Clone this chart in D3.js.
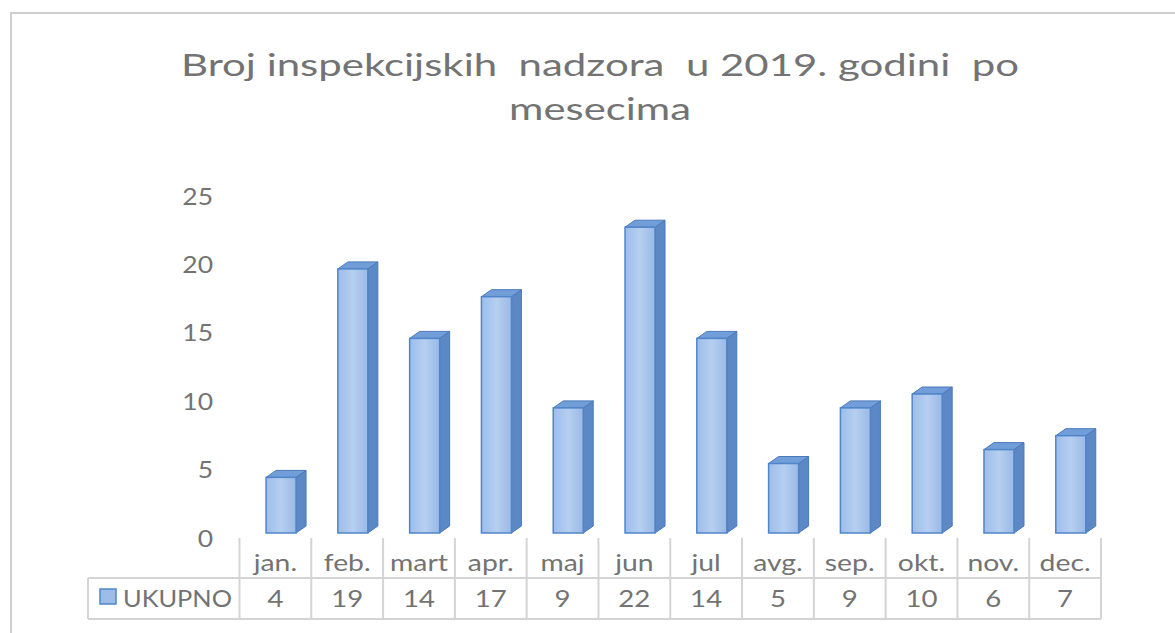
<!DOCTYPE html>
<html>
<head>
<meta charset="utf-8">
<script src="https://cdn.jsdelivr.net/npm/d3@7"></script>
<style>
  body { margin: 0; background: #fff; }
  text { font-family: Lato, "Open Sans", sans-serif; fill: #737373; }
</style>
</head>
<body>
<svg id="chart"></svg>
<script>
// data
const months = ["jan.", "feb.", "mart", "apr.", "maj", "jun", "jul", "avg.", "sep.", "okt.", "nov.", "dec."];
const counts = [4, 19, 14, 17, 9, 22, 14, 5, 9, 10, 6, 7];
const seriesName = "UKUPNO";
const yTicks = [0, 5, 10, 15, 20, 25];
const titleLines = ["Broj inspekcijskih  nadzora  u 2019. godini  po", "mesecima"];

const width = 1175, height = 633;
const depthX = 10, depthY = 7;

const svg = d3.select("#chart")
    .attr("width", width)
    .attr("height", height);

// the reference text looks horizontally stretched, widen it a bit
function stretch(sel, k) {
    sel.each(function() {
        const len = this.getComputedTextLength();
        d3.select(this)
            .attr("textLength", len * k)
            .attr("lengthAdjust", "spacingAndGlyphs");
    });
}

// gradients for the 3d faces
const defs = svg.append("defs");
const front = defs.append("linearGradient").attr("id", "front")
    .attr("x1", 0).attr("x2", 1).attr("y1", 0).attr("y2", 0);
front.append("stop").attr("offset", "0%").attr("stop-color", "#9dbde9");
front.append("stop").attr("offset", "50%").attr("stop-color", "#b6cff1");
front.append("stop").attr("offset", "100%").attr("stop-color", "#9ab9e6");

// chart frame (only top and left edges are visible)
svg.append("path")
    .attr("d", "M11,634 L11,13 L1176,13")
    .attr("fill", "none")
    .attr("stroke", "#cfcfcf")
    .attr("stroke-width", 2);

// title
svg.append("g").selectAll("text")
    .data(titleLines)
    .enter().append("text")
    .attr("x", 600)
    .attr("y", (d, i) => 76 + i * 44)
    .attr("text-anchor", "middle")
    .attr("font-size", 30)
    .attr("textLength", (d, i) => i === 0 ? 838 : 182)
    .attr("lengthAdjust", "spacingAndGlyphs")
    .style("white-space", "pre")
    .style("fill", "#737373")
    .text(d => d);

const x = d3.scaleBand()
    .domain(months)
    .range([239.5, 1101])
    .paddingInner(0).paddingOuter(0);

const y = d3.scaleLinear()
    .domain([0, 25])
    .range([533, 533 - 25 * 13.9]);

// back wall scale for the value axis labels (perspective shift)
const yWall = d3.scaleLinear()
    .domain([0, 25])
    .range([538, 196]);

const yAxis = svg.append("g")
    .attr("transform", "translate(214,0)")
    .call(d3.axisLeft(yWall).tickValues(yTicks).tickSize(0).tickPadding(0));
yAxis.select(".domain").remove();
yAxis.selectAll("text")
    .attr("font-size", 23)
    .attr("font-family", "Lato, sans-serif")
    .style("fill", "#737373")
    .attr("x", -1)
    .attr("dy", "0.35em")
    .call(stretch, 1.15);

// bars
const barW = 30;
const bx = d => x(d.m) + x.bandwidth() * 0.37;
const rows = months.map((m, i) => ({m: m, v: counts[i]}));

const bars = svg.append("g").selectAll("g")
    .data(rows)
    .enter().append("g");

// side face
bars.append("path")
    .attr("d", d => {
        const x0 = bx(d) + barW, yt = y(d.v), yb = y(0);
        return `M${x0},${yb} L${x0},${yt} L${x0 + depthX},${yt - depthY} L${x0 + depthX},${yb - depthY} Z`;
    })
    .attr("fill", "#5c88c6")
    .attr("stroke", "#4a79b8")
    .attr("stroke-width", 1);

// top face
bars.append("path")
    .attr("d", d => {
        const x0 = bx(d), yt = y(d.v);
        return `M${x0},${yt} L${x0 + depthX},${yt - depthY} L${x0 + barW + depthX},${yt - depthY} L${x0 + barW},${yt} Z`;
    })
    .attr("fill", "#719dd9")
    .attr("stroke", "#4a79b8")
    .attr("stroke-width", 1);

// front face
bars.append("rect")
    .attr("x", d => bx(d))
    .attr("y", d => y(d.v))
    .attr("width", barW)
    .attr("height", d => y(0) - y(d.v))
    .attr("fill", "url(#front)")
    .attr("stroke", "#4f86c9")
    .attr("stroke-width", 1.5);

// data table
const gridColor = "#d4d4d4";
const rowTop = 538, rowMid = 578, rowBot = 619, legendLeft = 88;
const table = svg.append("g");

// vertical separators
table.selectAll("line.v")
    .data(months.concat(["end"]))
    .enter().append("line")
    .attr("x1", (d, i) => i < months.length ? x(d) : x.range()[1])
    .attr("x2", (d, i) => i < months.length ? x(d) : x.range()[1])
    .attr("y1", rowTop)
    .attr("y2", rowBot)
    .attr("stroke", gridColor)
    .attr("stroke-width", 2);

table.append("line")
    .attr("x1", legendLeft).attr("x2", x.range()[1])
    .attr("y1", rowMid).attr("y2", rowMid)
    .attr("stroke", gridColor).attr("stroke-width", 2);
table.append("line")
    .attr("x1", legendLeft).attr("x2", x.range()[1])
    .attr("y1", rowBot).attr("y2", rowBot)
    .attr("stroke", gridColor).attr("stroke-width", 2);
table.append("line")
    .attr("x1", legendLeft).attr("x2", legendLeft)
    .attr("y1", rowMid).attr("y2", rowBot)
    .attr("stroke", gridColor).attr("stroke-width", 2);

// category labels
table.selectAll("text.cat")
    .data(months)
    .enter().append("text")
    .attr("x", d => x(d) + x.bandwidth() / 2)
    .attr("y", 571)
    .attr("text-anchor", "middle")
    .attr("font-size", 24)
    .text(d => d)
    .call(stretch, 1.18);

// values
table.selectAll("text.val")
    .data(rows)
    .enter().append("text")
    .attr("x", d => x(d.m) + x.bandwidth() / 2)
    .attr("y", 607)
    .attr("text-anchor", "middle")
    .attr("font-size", 24)
    .text(d => d.v)
    .call(stretch, 1.15);

// legend key
table.append("rect")
    .attr("x", 100).attr("y", 589)
    .attr("width", 16).attr("height", 15)
    .attr("fill", "#9dbde9")
    .attr("stroke", "#4f86c9")
    .attr("stroke-width", 1.5);
table.append("text")
    .attr("x", 123).attr("y", 607)
    .attr("font-size", 24)
    .attr("textLength", 109)
    .attr("lengthAdjust", "spacingAndGlyphs")
    .text(seriesName);
</script>
</body>
</html>
